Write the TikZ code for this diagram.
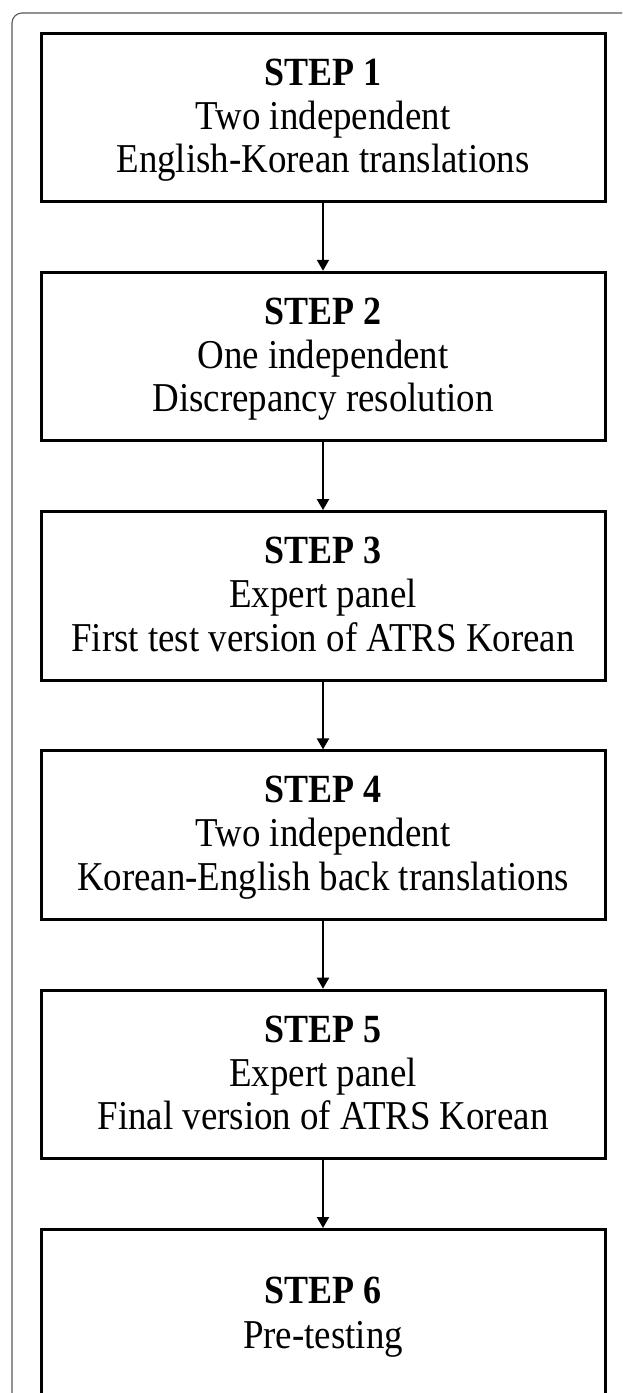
\documentclass[tikz,border=0pt]{standalone}
\usepackage{fontspec}
\setmainfont{Liberation Serif}[FakeStretch=0.9]
\usetikzlibrary{arrows.meta}
\begin{document}
\begin{tikzpicture}[x=1pt,y=-1pt,
  stepbox/.style={draw=black,line width=3pt,minimum width=564pt,minimum height=168.5pt,inner sep=0pt,anchor=north},
  steptitle/.style={anchor=base,inner sep=0pt,font=\fontsize{40}{46}\selectfont\bfseries},
  steptext/.style={anchor=base,inner sep=0pt,font=\fontsize{41}{46}\selectfont},
  flow/.style={line width=2pt,-{Triangle[width=12pt,length=11pt]}},
  frame/.style={draw=black!65,line width=1.1pt,rounded corners=10pt}]
\useasboundingbox (0,0) rectangle (622,1393);
\clip (0,0) rectangle (622,1393);
\fill[white] (0,0) rectangle (622,1393);
% outer frame
\draw[frame] (12,1420) -- (12,13) -- (640,13);
% boxes
\node[stepbox] (s1) at (323,31.5) {};
\node[stepbox] (s2) at (323,270.8) {};
\node[stepbox] (s3) at (323,510.1) {};
\node[stepbox] (s4) at (323,749.4) {};
\node[stepbox] (s5) at (323,988.7) {};
\node[stepbox,minimum height=260pt] (s6) at (323,1228) {};
% texts
\node[steptitle] (t1) at (323,85) {STEP 1};
\node[steptext] (a1) at (323,129) {Two independent};
\node[steptext] (b1) at (323,172.5) {English-Korean translations};
\node[steptitle] (t2) at (323,324.3) {STEP 2};
\node[steptext] (a2) at (323,368.3) {One independent};
\node[steptext] (b2) at (323,411.8) {Discrepancy resolution};
\node[steptitle] (t3) at (323,563.6) {STEP 3};
\node[steptext] (a3) at (323,607.6) {Expert panel};
\node[steptext] (b3) at (323,651.1) {First test version of ATRS Korean};
\node[steptitle] (t4) at (323,802.9) {STEP 4};
\node[steptext] (a4) at (323,846.9) {Two independent};
\node[steptext] (b4) at (323,890.4) {Korean-English back translations};
\node[steptitle] (t5) at (323,1042.2) {STEP 5};
\node[steptext] (a5) at (323,1086.2) {Expert panel};
\node[steptext] (b5) at (323,1129.7) {Final version of ATRS Korean};
\node[steptitle] (t6) at (323,1303) {STEP 6};
\node[steptext] (a6) at (323,1348) {Pre-testing};
% arrows
\draw[flow] (s1.south) -- (s2.north);
\draw[flow] (s2.south) -- (s3.north);
\draw[flow] (s3.south) -- (s4.north);
\draw[flow] (s4.south) -- (s5.north);
\draw[flow] (s5.south) -- (s6.north);
\end{tikzpicture}
\end{document}
